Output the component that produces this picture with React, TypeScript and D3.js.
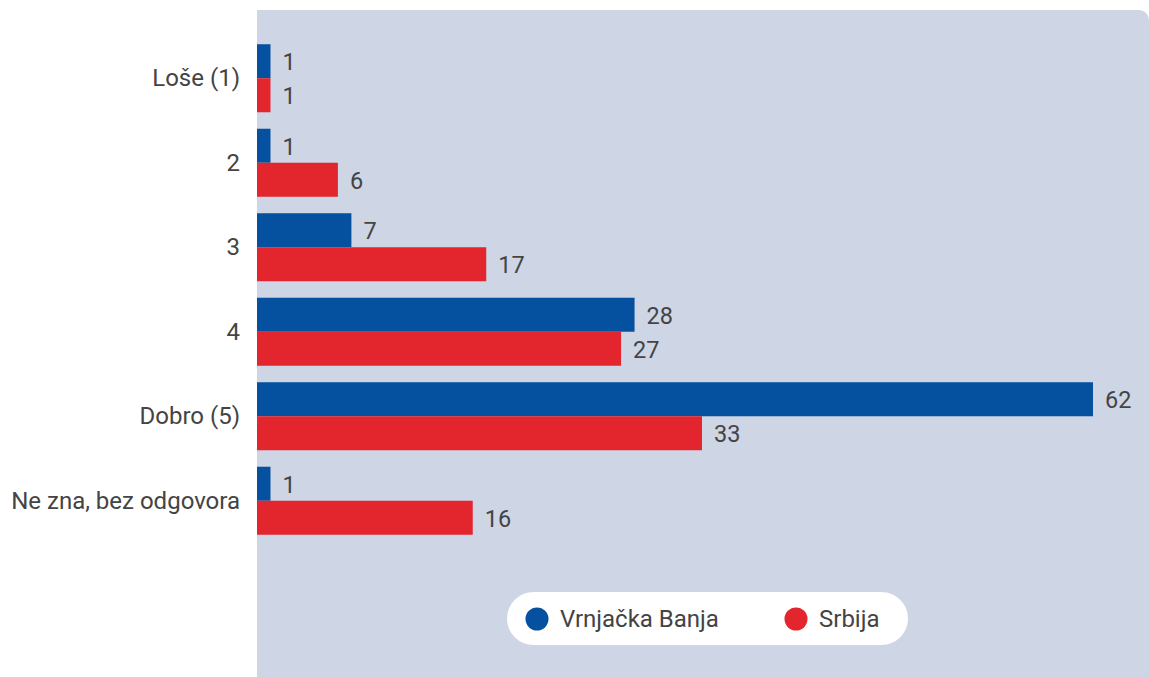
import React from "react";
import * as d3 from "d3";

const categories = ["Loše (1)", "2", "3", "4", "Dobro (5)", "Ne zna, bez odgovora"];
const seriesNames = ["Vrnjačka Banja", "Srbija"];
const vrnjackaBanja = [1, 1, 7, 28, 62, 1];
const srbija = [1, 6, 17, 27, 33, 16];
const colors = ["#05509F", "#E3262E"];

const W = 1149;
const H = 677;
const FONT = "Roboto, 'Noto Sans', sans-serif";
const TEXT = "#444444";

export default function App() {
  const panelX = 257;
  const panelY = 10;
  const r = 10;
  const x = d3.scaleLinear().domain([0, 62]).range([panelX, 1093]);
  const y = d3.scaleBand<string>().domain(categories).range([36, 543]).paddingInner(0.195).paddingOuter(0.0975);
  const y1 = d3.scaleBand<string>().domain(seriesNames).range([0, y.bandwidth()]);
  const series = [vrnjackaBanja, srbija];

  const panelPath = `M${panelX},${panelY} H${W - r} A${r},${r} 0 0 1 ${W},${panelY + r} V${H} H${panelX} Z`;

  return (
    <svg width={W} height={H} style={{ position: "absolute", left: 0, top: 0, fontFamily: FONT }}>
      <path d={panelPath} fill="#CED5E4" />
      {categories.map((c) => (
        <text key={c} x={240} y={(y(c) as number) + y.bandwidth() / 2} textAnchor="end" dominantBaseline="central" fontSize={24} fill={TEXT}>
          {c}
        </text>
      ))}
      {series.map((vals, si) =>
        vals.map((v, i) => {
          const c = categories[i];
          const by = (y(c) as number) + (y1(seriesNames[si]) as number);
          return (
            <g key={`${si}-${i}`}>
              <rect x={x(0)} y={by} width={x(v) - x(0)} height={y1.bandwidth()} fill={colors[si]} />
              <text x={x(v) + 12} y={by + y1.bandwidth() / 2 + 1} dominantBaseline="central" fontSize={23.5} fill={TEXT}>
                {v}
              </text>
            </g>
          );
        })
      )}
      <g>
        <rect x={507} y={592} width={401} height={53} rx={26.5} fill="#FFFFFF" />
        <circle cx={537} cy={619} r={11.5} fill={colors[0]} />
        <text x={560} y={619} dominantBaseline="central" fontSize={24} fill={TEXT}>{seriesNames[0]}</text>
        <circle cx={796} cy={619} r={11.5} fill={colors[1]} />
        <text x={819} y={619} dominantBaseline="central" fontSize={24} fill={TEXT}>{seriesNames[1]}</text>
      </g>
    </svg>
  );
}
